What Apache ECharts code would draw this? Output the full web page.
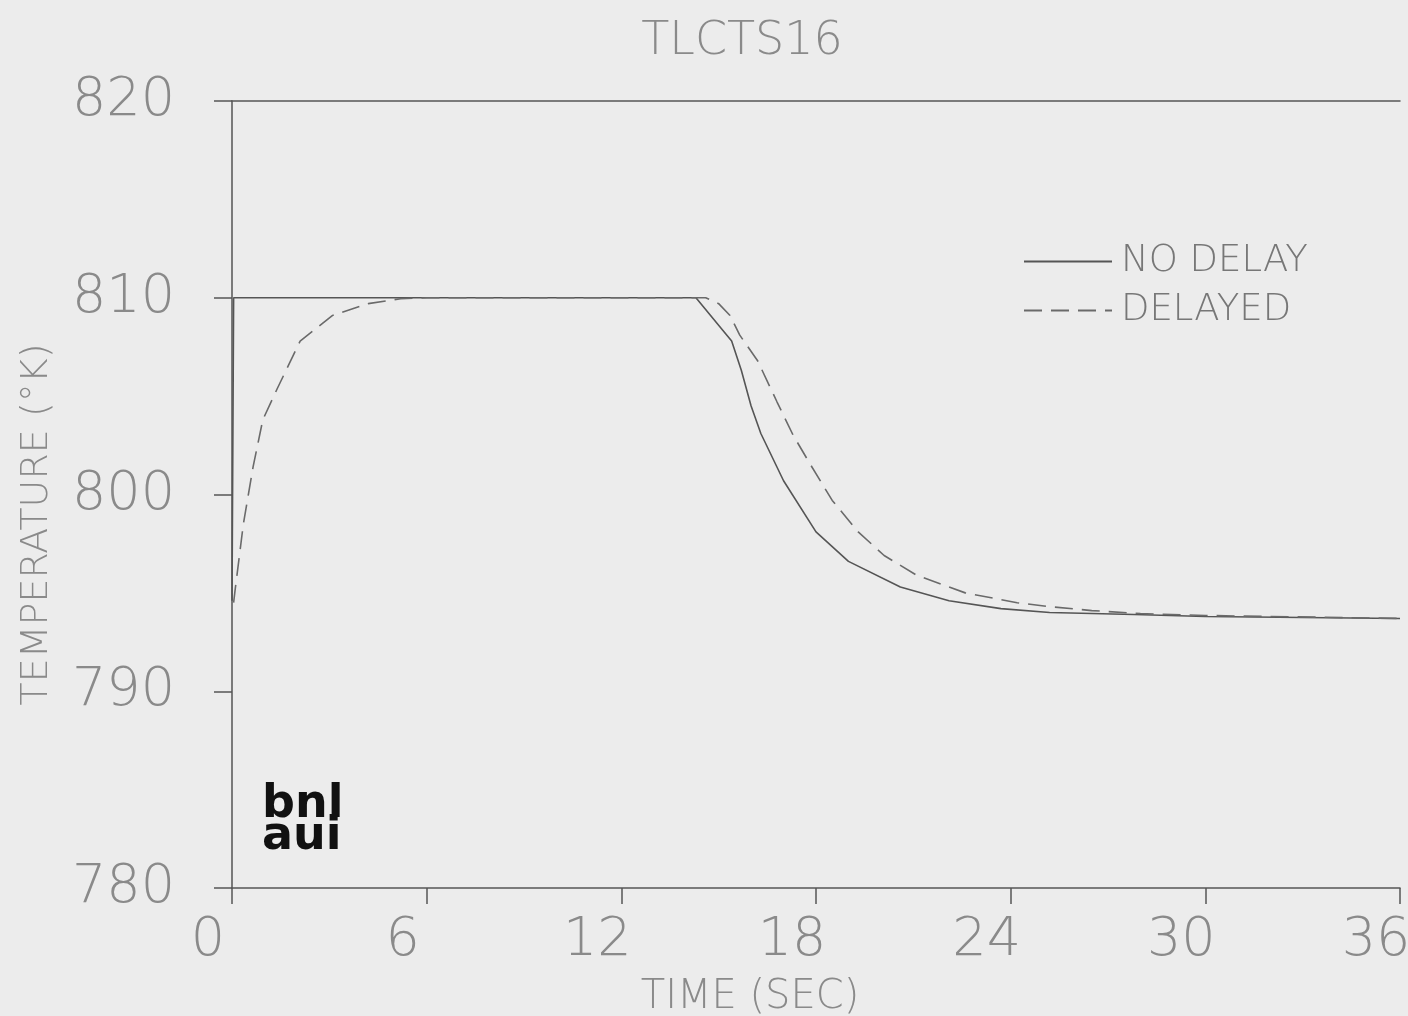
<!DOCTYPE html>
<html>
<head>
<meta charset="utf-8">
<script src="https://cdn.jsdelivr.net/npm/echarts@6/dist/echarts.min.js"></script>
<style>
html,body{margin:0;padding:0;background:#ececec;}
#chart{width:1408px;height:1016px;}
</style>
</head>
<body>
<div id="chart"></div>
<script>
const titleText = 'TLCTS16';
const xAxisName = 'TIME (SEC)';
const yAxisName = 'TEMPERATURE (°K)';
const xTicks = [0, 6, 12, 18, 24, 30, 36];
const yTicks = [780, 790, 800, 810, 820];
const seriesNames = ['NO DELAY', 'DELAYED'];

// [time (s), temperature (K)]
const noDelay = [
  [0, 794.6], [0.05, 810], [6, 810], [12, 810], [14.3, 810], [15.1, 808.4], [15.4, 807.8],
  [15.7, 806.3], [16.0, 804.5], [16.3, 803.1], [17.0, 800.7], [18.0, 798.1],
  [19.0, 796.6], [20.6, 795.3], [22.1, 794.6], [23.7, 794.2], [25.2, 794.0],
  [27.8, 793.9], [30, 793.8], [33, 793.75], [36, 793.7]
];
const delayed = [
  [0.05, 794.5], [0.1, 795.2], [0.35, 798.5], [0.65, 801.4], [0.95, 803.8],
  [1.4, 805.4], [2.1, 807.8], [3.1, 809.1], [4.2, 809.7], [5.2, 809.95],
  [6, 810], [12, 810], [14.6, 810], [15.0, 809.7], [15.35, 809.1], [15.65, 808.1],
  [16.2, 806.8], [16.8, 804.7], [17.3, 803.0], [17.8, 801.6], [18.5, 799.7],
  [19.3, 798.1], [20.1, 796.9], [21.1, 795.9], [22.6, 795.0], [24.2, 794.5],
  [25.2, 794.3], [26.5, 794.1], [28, 793.95], [30, 793.85], [36, 793.7]
];

const FONT = "'DejaVu Sans',sans-serif";
const TXT = '#8a8a8a';
const LINE = '#555555';

const chart = echarts.init(document.getElementById('chart'));
chart.setOption({
  backgroundColor: '#ececec',
  animation: false,
  title: {
    text: titleText, left: 737, top: 14, textAlign: 'center',
    textStyle: {fontFamily: FONT, fontSize: 46, fontWeight: 'lighter', color: TXT}
  },
  legend: {
    orient: 'vertical', left: 1018, top: 238, itemWidth: 88, itemHeight: 16, itemGap: 12,
    data: seriesNames,
    itemStyle: {opacity: 0},
    textStyle: {fontFamily: FONT, fontSize: 37, fontWeight: 'lighter', color: '#777', padding: [0,0,0,4]}
  },
  grid: {left: 232, right: 8, top: 101, bottom: 128, outerBoundsMode: 'none', containLabel: false},
  xAxis: [{
    type: 'value', min: 0, max: 36, interval: 6,
    name: xAxisName, nameLocation: 'middle', nameGap: 90,
    nameTextStyle: {fontFamily: FONT, fontSize: 40, fontWeight: 'lighter', color: TXT, padding: [0, 132, 0, 0]},
    axisLine: {show: true, lineStyle: {color: LINE, width: 1.5}},
    axisTick: {show: true, length: 16, lineStyle: {color: LINE, width: 1.5}},
    axisLabel: {fontFamily: FONT, fontSize: 54, fontWeight: 'lighter', color: TXT, margin: 26,
      padding: [0, 48, 0, 0],
      formatter: v => xTicks.includes(v) ? String(v) : ''},
    splitLine: {show: false}
  }, {
    type: 'value', position: 'top', min: 0, max: 36,
    axisLine: {show: true, lineStyle: {color: LINE, width: 1.5}},
    axisTick: {show: false}, axisLabel: {show: false}, splitLine: {show: false}
  }],
  yAxis: {
    type: 'value', min: 780, max: 820, interval: 10,
    name: yAxisName, nameLocation: 'middle', nameGap: 176, nameRotate: 90,
    nameTextStyle: {fontFamily: FONT, fontSize: 38, fontWeight: 'lighter', color: TXT, padding: [0, 60, 0, 0]},
    axisLine: {show: true, lineStyle: {color: LINE, width: 1.5}},
    axisTick: {show: true, length: 18, lineStyle: {color: LINE, width: 1.5}},
    axisLabel: {fontFamily: FONT, fontSize: 54, fontWeight: 'lighter', color: TXT, margin: 57,
      formatter: v => yTicks.includes(v) ? String(v) : ''},
    splitLine: {show: false}
  },
  series: [{
    name: seriesNames[0], type: 'line', data: noDelay, symbol: 'none', smooth: false,
    lineStyle: {color: LINE, width: 1.6, type: 'solid'}, itemStyle: {color: LINE}
  }, {
    name: seriesNames[1], type: 'line', data: delayed, symbol: 'none', smooth: false,
    lineStyle: {color: '#6a6a6a', width: 1.6, type: [18, 9]}, itemStyle: {color: '#6a6a6a'}
  }],
  graphic: [{
    type: 'text', left: 262, top: 782,
    style: {text: 'bnl', font: "bold 46px 'DejaVu Sans', sans-serif", fill: '#111'}
  }, {
    type: 'text', left: 262, top: 814,
    style: {text: 'aui', font: "bold 46px 'DejaVu Sans', sans-serif", fill: '#111'}
  }]
});
</script>
</body>
</html>
